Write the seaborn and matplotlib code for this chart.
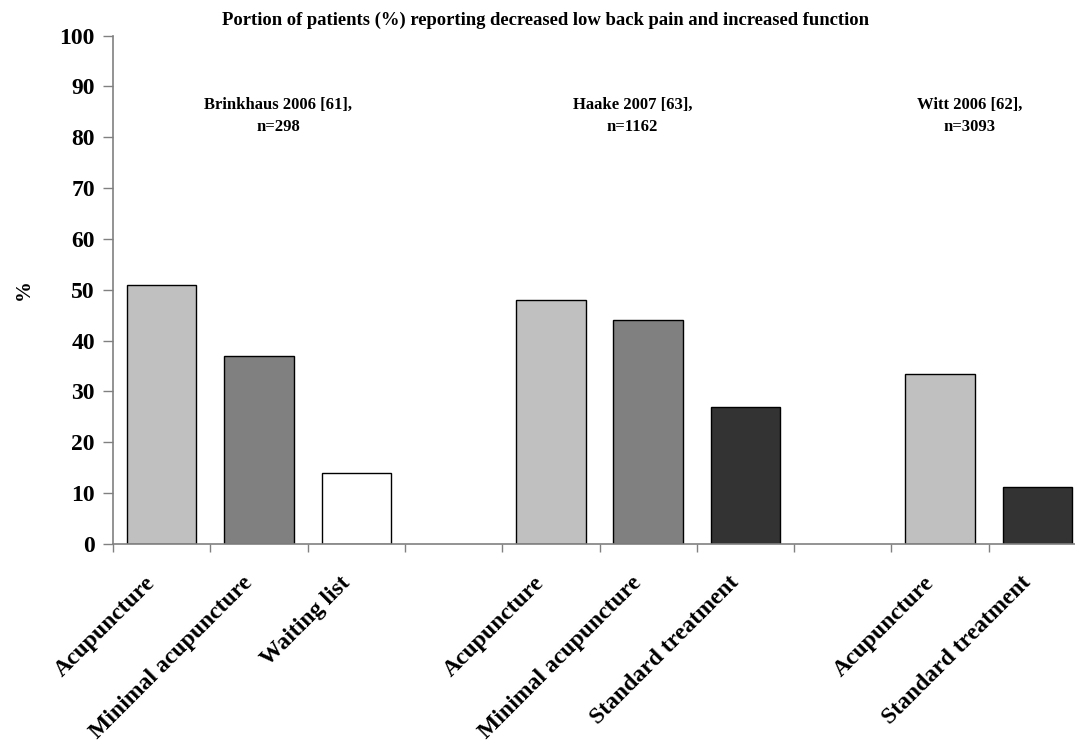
import pandas as pd
import numpy as np
import matplotlib
matplotlib.use('Agg')
import matplotlib.pyplot as plt
import matplotlib.transforms as mtransforms
import seaborn as sns

# Values (% of patients)
studies = ['Brinkhaus 2006 [61],\nn=298', 'Haake 2007 [63],\nn=1162', 'Witt 2006 [62],\nn=3093']
brinkhaus_groups = ['Acupuncture', 'Minimal acupuncture', 'Waiting list']
brinkhaus_values = [51.0, 37.0, 14.0]
haake_groups = ['Acupuncture', 'Minimal acupuncture', 'Standard treatment']
haake_values = [48.0, 44.0, 27.0]
witt_groups = ['Acupuncture', 'Standard treatment']
witt_values = [33.5, 11.3]

group_colors = {
    'Acupuncture': '#C0C0C0',
    'Minimal acupuncture': '#808080',
    'Waiting list': '#FFFFFF',
    'Standard treatment': '#333333',
}

sns.set_style('white')
plt.rcParams['font.family'] = ['Liberation Serif', 'DejaVu Serif']
plt.rcParams['font.weight'] = 'bold'
plt.rcParams['text.color'] = 'black'
plt.rcParams['axes.labelcolor'] = 'black'


def build_frame():
    """Put the three studies side by side, with an empty slot between them"""
    rows = []
    slot = 0
    for groups, values in [(brinkhaus_groups, brinkhaus_values),
                           (haake_groups, haake_values),
                           (witt_groups, witt_values)]:
        for g, v in zip(groups, values):
            rows.append({'slot': slot, 'group': g, 'value': v})
            slot += 1
        slot += 1  # gap between studies
    return pd.DataFrame(rows)


df = build_frame()

fig = plt.figure(figsize=(10.75, 7.4), dpi=100)
ax = fig.add_axes([113 / 1075, 1 - 544 / 740, 973 / 1075, (544 - 35.6) / 740])

sns.barplot(data=df, x='slot', y='value', hue='group', palette=group_colors,
            native_scale=True, dodge=False, width=0.714, legend=False,
            edgecolor='black', linewidth=1.0, ax=ax)

ax.set_xlim(-0.5, 9.5)
ax.set_ylim(0, 100)
ax.set_yticks(np.arange(0, 101, 10))
ax.tick_params(axis='y', labelsize=17, length=7, width=1, color='#808080',
               labelcolor='black', direction='out', left=True, pad=6)

# major ticks on the slot boundaries, labels on the bar centres
ax.set_xticks(np.arange(-0.5, 10, 1.0))
ax.set_xticklabels([])
ax.tick_params(axis='x', which='major', length=6, width=1, color='#808080',
               direction='out', bottom=True)
ax.set_xticks(df['slot'].values, df['group'].values, minor=True)
ax.tick_params(axis='x', which='minor', length=0, labelsize=17, pad=31,
               labelcolor='black')
shift = mtransforms.ScaledTranslation(-2 / 100, 0, fig.dpi_scale_trans)
for lab in ax.get_xticklabels(minor=True):
    lab.set_rotation(45)
    lab.set_ha('right')
    lab.set_va('bottom')
    lab.set_rotation_mode('anchor')
    lab.set_fontweight('bold')
    lab.set_transform(lab.get_transform() + shift)
for lab in ax.get_yticklabels():
    lab.set_fontweight('bold')

for side in ['top', 'right']:
    ax.spines[side].set_visible(False)
for side in ['left', 'bottom']:
    ax.spines[side].set_color('#808080')
    ax.spines[side].set_linewidth(1.2)

ax.set_xlabel('')
ax.set_ylabel('%', fontsize=15, fontweight='bold')
ax.yaxis.set_label_coords(-0.0812, 0.5)

# study labels
for xpos, label in zip([1.2, 4.84, 8.3], studies):
    ax.text(xpos, 84.2, label, ha='center', va='center', fontsize=12,
            fontweight='bold', linespacing=1.5)

fig.text(545 / 1075, 1 - 20 / 740,
         'Portion of patients (%) reporting decreased low back pain and increased function',
         ha='center', va='center', fontsize=13.4, fontweight='bold')

fig.savefig('out.png', dpi=100)
